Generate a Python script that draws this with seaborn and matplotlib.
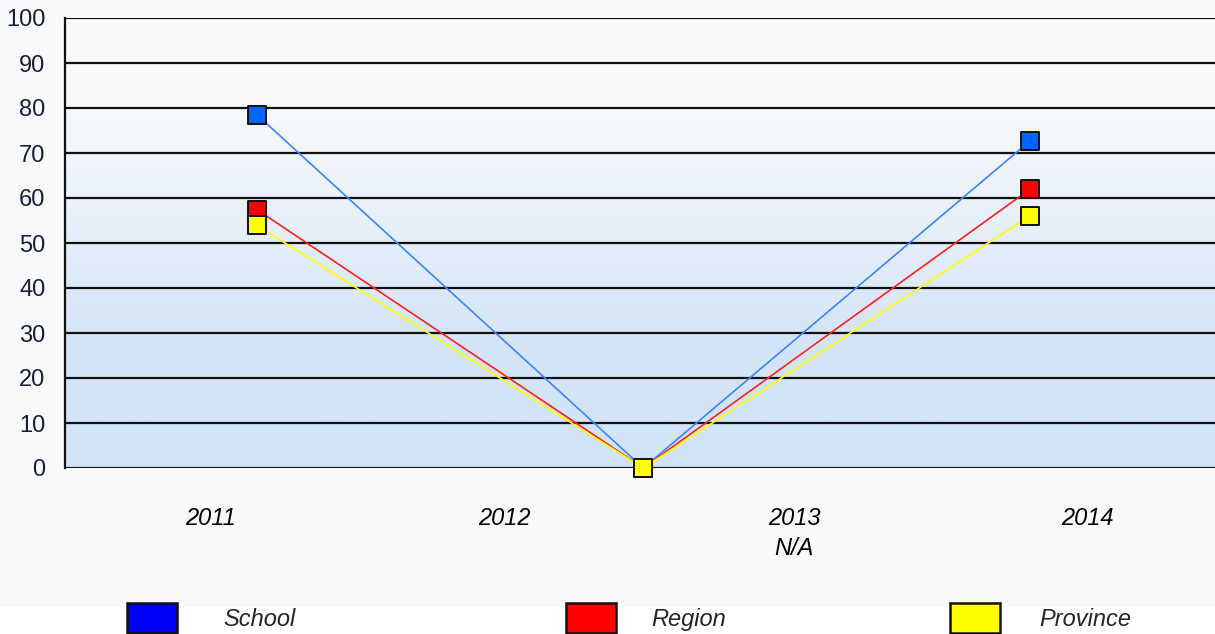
import numpy as np
import pandas as pd
import matplotlib
matplotlib.use("Agg")
import matplotlib.pyplot as plt
import matplotlib.patches as mpatches
from matplotlib.colors import LinearSegmentedColormap
import seaborn as sns

# ---------- Data ----------
point_pos = [0, 1, 2]
school = [78.5, 0, 72.6]
region = [57.4, 0, 61.9]
province = [53.9, 0, 56.0]

tick_pos = [-0.12, 0.64, 1.39, 2.15]
tick_labels = ["2011", "2012", "2013\nN/A", "2014"]

series_names = ["School", "Region", "Province"]
line_colors = ["#3a86ff", "#ff2020", "#ffff00"]
marker_colors = ["#0066ff", "#ff0000", "#ffff00"]
legend_colors = ["#0000ff", "#ff0000", "#ffff00"]

df = pd.DataFrame({
    "pos": point_pos * 3,
    "value": school + region + province,
    "series": np.repeat(series_names, len(point_pos)),
})

# ---------- Setup ----------
sns.set_theme(style="white")
plt.rcParams["font.family"] = ["Liberation Sans", "DejaVu Sans"]
FS = 17

fig = plt.figure(figsize=(12.15, 6.34), dpi=100)
fig.patch.set_facecolor("white")
# grey backdrop behind chart (legend strip stays white)
fig.add_artist(mpatches.Rectangle((0, 27 / 634), 1, 1, transform=fig.transFigure,
                                  facecolor="#f8f9fa", edgecolor="none", zorder=-10))

ax = fig.add_axes([65 / 1215, (634 - 468) / 634, 1 - 65 / 1215, 450 / 634])
ax.set_xlim(-0.497, 2.48)
ax.set_ylim(0, 100)

# gradient background
cmap = LinearSegmentedColormap.from_list(
    "bg", [(0.0, "#d3e3f8"), (0.3, "#d5e5f8"), (0.55, "#e8f0fa"),
           (0.8, "#f7f9fb"), (1.0, "#fafbfc")])
grad = np.linspace(0, 1, 256).reshape(-1, 1)
ax.imshow(grad, cmap=cmap, origin="lower", aspect="auto",
          extent=[-0.497, 2.48, 0, 100], zorder=0)

# gridlines
for yv in range(0, 101, 10):
    ax.axhline(yv, color="#111111", lw=1.6, zorder=1)

# ---------- Lines ----------
sns.lineplot(data=df, x="pos", y="value", hue="series", palette=line_colors,
             hue_order=series_names, lw=1.2, legend=False, ax=ax, zorder=3)
for name, mc in zip(series_names, marker_colors):
    sub = df[df["series"] == name]
    ax.scatter(sub["pos"], sub["value"], marker="s", s=170, color=mc,
               edgecolor="#111111", linewidth=1.4, zorder=5, clip_on=False)

ax.set_xticks(tick_pos)
ax.set_xticklabels(tick_labels, fontsize=FS, style="italic", color="black",
                   va="top", linespacing=1.4)
ax.tick_params(axis="x", length=0, pad=28)
ax.set_yticks(range(0, 101, 10))
ax.set_yticklabels([str(v) for v in range(0, 101, 10)], fontsize=FS,
                   color="#1c1c3c")
ax.tick_params(axis="y", length=0, pad=14)
ax.set_xlabel("")
ax.set_ylabel("")
for side in ["top", "right", "bottom"]:
    ax.spines[side].set_visible(False)
ax.spines["left"].set_color("#111111")
ax.spines["left"].set_linewidth(1.6)

# ---------- Legend ----------
legend_x = [127, 566, 950]
legend_gap = [2.0, 1.5, 1.7]
for name, c, lx, gap in zip(series_names, legend_colors, legend_x, legend_gap):
    h = mpatches.Patch(facecolor=c, edgecolor="#111111", linewidth=1.8, label=name)
    fig.legend(handles=[h], loc="center left",
               bbox_to_anchor=(lx / 1215, (634 - 618) / 634),
               frameon=False, handlelength=2.1, handleheight=1.55,
               handletextpad=gap, borderpad=0, borderaxespad=0,
               prop={"size": FS, "style": "italic"})

fig.savefig("out.png", dpi=100, facecolor=fig.get_facecolor())
